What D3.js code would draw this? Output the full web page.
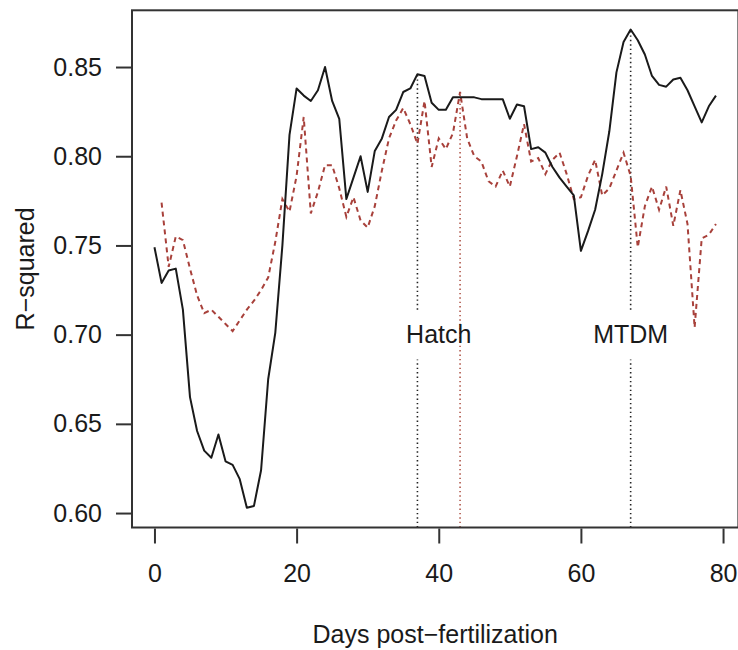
<!DOCTYPE html>
<html>
<head>
<meta charset="utf-8">
<script src="https://cdn.jsdelivr.net/npm/d3@7"></script>
<style>
  body { margin: 0; background: #fff; }
  text { font-family: "Liberation Sans", Arial, Helvetica, sans-serif; fill: #1a1a1a; }
</style>
</head>
<body>
<script>
// R-squared by day post-fertilization
var blackDays0 = 0;
var blackR2 = [
  0.749, 0.729, 0.736, 0.737, 0.714, 0.665, 0.646, 0.635, 0.631, 0.644,
  0.629, 0.627, 0.619, 0.603, 0.604, 0.624, 0.675, 0.701, 0.750, 0.812,
  0.838, 0.834, 0.831, 0.837, 0.850, 0.831, 0.821, 0.776, 0.788, 0.800,
  0.780, 0.803, 0.810, 0.822, 0.826, 0.836, 0.838, 0.846, 0.845, 0.830,
  0.826, 0.826, 0.833, 0.833, 0.833, 0.833, 0.832, 0.832, 0.832, 0.832,
  0.821, 0.829, 0.828, 0.804, 0.805, 0.802, 0.794, 0.788, 0.783, 0.778,
  0.747, 0.758, 0.770, 0.790, 0.814, 0.847, 0.864, 0.871, 0.865, 0.857,
  0.845, 0.840, 0.839, 0.843, 0.844, 0.837, 0.828, 0.819, 0.828, 0.834
];

var redDays0 = 1;
var redR2 = [
  0.774, 0.738, 0.755, 0.753, 0.737, 0.722, 0.712, 0.714, 0.710,
  0.706, 0.702, 0.708, 0.714, 0.719, 0.725, 0.732, 0.752, 0.776, 0.769,
  0.789, 0.822, 0.768, 0.780, 0.795, 0.795, 0.782, 0.766, 0.777, 0.764,
  0.760, 0.772, 0.792, 0.810, 0.820, 0.827, 0.818, 0.807, 0.831, 0.794,
  0.810, 0.804, 0.813, 0.836, 0.810, 0.800, 0.797, 0.786, 0.783, 0.792,
  0.783, 0.800, 0.818, 0.797, 0.799, 0.790, 0.798, 0.802, 0.790, 0.776,
  0.777, 0.789, 0.798, 0.778, 0.782, 0.792, 0.802, 0.789, 0.749, 0.772,
  0.783, 0.770, 0.783, 0.761, 0.781, 0.762, 0.704, 0.754, 0.756, 0.762
];

var xTicks = [0, 20, 40, 60, 80];
var yTicks = [0.60, 0.65, 0.70, 0.75, 0.80, 0.85];

// markers: day, which series, label
var markerDays   = [37, 67, 43];
var markerSeries = ["black", "black", "red"];
var labelTexts   = ["Hatch", "MTDM"];
var labelDays    = [40, 67];
var labelValue   = 0.70;

var width = 738, height = 650;
var svg = d3.select("body").append("svg")
  .attr("width", width)
  .attr("height", height);

var xScale = d3.scaleLinear().domain([-3.16, 82.16]).range([132, 738.4]);
var yScale = d3.scaleLinear().domain([0.5919, 0.8818]).range([527.5, 10.3]);

var blackPts = blackR2.map(function (v, i){ return [blackDays0 + i, v]; });
var redPts   = redR2.map(function (v, i){ return [redDays0 + i, v]; });

var line = d3.line()
  .x(function (d){ return xScale(d[0]); })
  .y(function (d){ return yScale(d[1]); });

// vertical dotted markers
var gap = 0.014;
markerDays.forEach(function (day, k){
  var series = markerSeries[k] === "black" ? blackPts : redPts;
  var top = series.filter(function (d){ return d[0] === day; })[0][1];
  var col = markerSeries[k] === "black" ? "#222" : "#b0584c";
  var segs;
  if (markerSeries[k] === "black") {
    segs = [[0.5919, labelValue - gap], [labelValue + gap, top]];
  } else {
    segs = [[0.5919, top]];
  }
  segs.forEach(function (s){
    svg.append("line")
      .attr("x1", xScale(day)).attr("x2", xScale(day))
      .attr("y1", yScale(s[0])).attr("y2", yScale(s[1]))
      .attr("stroke", col)
      .attr("stroke-width", 1.6)
      .attr("stroke-dasharray", "1.4,3");
  });
});

svg.append("path")
  .datum(redPts)
  .attr("d", line)
  .attr("fill", "none")
  .attr("stroke", "#a8413b")
  .attr("stroke-width", 2)
  .attr("stroke-dasharray", "5,4");

svg.append("path")
  .datum(blackPts)
  .attr("d", line)
  .attr("fill", "none")
  .attr("stroke", "#1a1a1a")
  .attr("stroke-width", 2)
  .attr("stroke-linejoin", "round");

// labels
labelTexts.forEach(function (t, i){
  svg.append("text")
    .attr("x", xScale(labelDays[i]))
    .attr("y", yScale(labelValue))
    .attr("dy", "0.35em")
    .attr("text-anchor", "middle")
    .style("font-size", "25px")
    .text(t);
});

// box
svg.append("rect")
  .attr("x", 132).attr("y", 10.3)
  .attr("width", 738.4 - 132).attr("height", 527.5 - 10.3)
  .attr("fill", "none")
  .attr("stroke", "#333")
  .attr("stroke-width", 2);

// axes
var xAxis = d3.axisBottom(xScale).tickValues(xTicks).tickSize(15).tickPadding(21)
  .tickFormat(d3.format("d"));
var gx = svg.append("g").attr("transform", "translate(0,528.5)").call(xAxis);
gx.select(".domain").remove();
gx.selectAll("line").attr("stroke", "#333").attr("stroke-width", 2);
gx.selectAll("text").style("font-size", "25px").attr("fill", "#1a1a1a");

var yAxis = d3.axisLeft(yScale).tickValues(yTicks).tickSize(16).tickPadding(14)
  .tickFormat(d3.format(".2f"));
var gy = svg.append("g").attr("transform", "translate(132,0)").call(yAxis);
gy.select(".domain").remove();
gy.selectAll("line").attr("stroke", "#333").attr("stroke-width", 2);
gy.selectAll("text").style("font-size", "25px").attr("fill", "#1a1a1a");

// axis titles
svg.append("text")
  .attr("x", (132 + 738.4) / 2)
  .attr("y", 643)
  .attr("text-anchor", "middle")
  .style("font-size", "25px")
  .text("Days post\u2212fertilization");

svg.append("text")
  .attr("transform", "translate(34," + ((10.3 + 527.5) / 2) + ") rotate(-90)")
  .attr("text-anchor", "middle")
  .style("font-size", "25px")
  .text("R\u2212squared");
</script>
</body>
</html>
